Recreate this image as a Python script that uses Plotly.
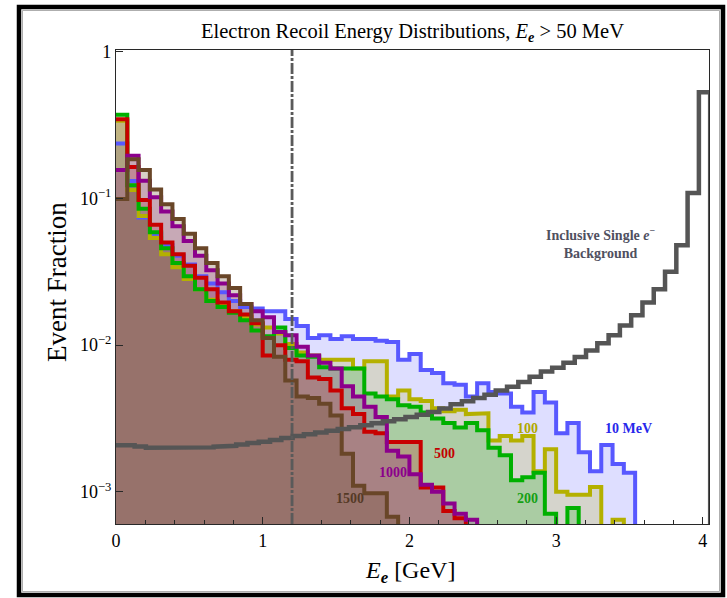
import plotly.graph_objects as go

# ---------------------------------------------------------------- data
BIN_W = 4.0 / 52.0          # GeV, common bin width
BKG_START = 0.05            # background binning starts at the 50 MeV cut

# event fraction per bin (signal bins start at 0 GeV); 0 = empty bin
ma_10 = [0.237, 0.1315, 0.0741, 0.0575, 0.0479, 0.0407, 0.0355, 0.0295, 0.0263, 0.0229,
         0.0200, 0.0182, 0.0178, 0.0170, 0.0170, 0.0151, 0.0135, 0.0112, 0.0117, 0.0110,
         0.0115, 0.0110, 0.0110, 0.0107, 0.0105, 0.00794, 0.00871, 0.00676, 0.00646, 0.00550,
         0.00537, 0.00447, 0.00550, 0.00479, 0.00468, 0.00380, 0.00347, 0.00479, 0.00407, 0.00251,
         0.00295, 0.00186, 0.00138, 0.00209, 0.00155, 0.00135]
ma_100 = [0.339, 0.114, 0.0759, 0.0537, 0.0417, 0.0339, 0.0282, 0.0240, 0.0204, 0.0191,
          0.0170, 0.0155, 0.0138, 0.0132, 0.0120, 0.0102, 0.00891, 0.00851, 0.00794, 0.00794,
          0.00794, 0.00692, 0.00776, 0.00776, 0.00447, 0.00490, 0.00427, 0.00417, 0.00372, 0.00355,
          0.00363, 0.00339, 0.00343, 0.00224, 0.00240, 0.00224, 0.00240, 0.00138, 0.00195, 0.00100,
          0.000955, 0.000955, 0.00108, 0, 0.000646]
ma_200 = [0.372, 0.123, 0.0851, 0.0589, 0.0457, 0.0363, 0.0295, 0.0240, 0.0200, 0.0182,
          0.0166, 0.0148, 0.0126, 0.0115, 0.0132, 0.00955, 0.00851, 0.00832, 0.00708, 0.00692,
          0.00692, 0.00692, 0.00468, 0.00447, 0.00427, 0.00389, 0.00380, 0.00347, 0.00316, 0.00295,
          0.00275, 0.00295, 0.00263, 0.00200, 0.00178, 0.00120, 0.00126, 0.00135, 0.000708, 0,
          0.000776]
ma_500 = [0.347, 0.164, 0.0977, 0.0661, 0.0501, 0.0417, 0.0347, 0.0288, 0.0240, 0.0195,
          0.0170, 0.0162, 0.0141, 0.00851, 0.0100, 0.00794, 0.00776, 0.00603, 0.00589, 0.00490,
          0.00372, 0.00339, 0.00257, 0.00251, 0.00219, 0.00219, 0.00219, 0.00107, 0.00107, 0.000741,
          0.000661]
ma_1000 = [0.156, 0.195, 0.132, 0.102, 0.0813, 0.0646, 0.0513, 0.0407, 0.0324, 0.0263,
           0.0219, 0.0191, 0.0170, 0.0155, 0.0123, 0.0117, 0.00977, 0.00851, 0.00759, 0.00692,
           0.00525, 0.00447, 0.00380, 0.00324, 0.00191, 0.00174, 0.00132, 0.00112, 0.00100, 0.000832,
           0.000708, 0.000646]
ma_1500 = [0.0991, 0.185, 0.156, 0.115, 0.0912, 0.0724, 0.0575, 0.0457, 0.0363, 0.0295,
           0.0245, 0.0191, 0.0148, 0.0112, 0.00832, 0.00575, 0.00447, 0.00437, 0.00398, 0.00331,
           0.00182, 0.00110, 0.000977, 0.000977, 0.000676]

# inclusive single-electron background (bins start at 50 MeV)
background = [0.00208, 0.00204, 0.00200, 0.00199, 0.00198, 0.00198, 0.00199, 0.00201, 0.00203, 0.00206,
              0.00210, 0.00215, 0.00220, 0.00226, 0.00233, 0.00240, 0.00247, 0.00254, 0.00261, 0.00268,
              0.00276, 0.00285, 0.00294, 0.00303, 0.00313, 0.00324, 0.00336, 0.00350, 0.00370, 0.00395,
              0.00415, 0.00437, 0.00460, 0.00490, 0.0052, 0.0056, 0.0061, 0.0066, 0.0070, 0.0076,
              0.0083, 0.0092, 0.0103, 0.0117, 0.0136, 0.0160, 0.0195, 0.0240, 0.0317, 0.048,
              0.109, 0.53]

series = [
    ("10 MeV", ma_10, "rgb(88,88,255)", 0.20),
    ("100", ma_100, "rgb(180,176,0)", 0.20),
    ("200", ma_200, "rgb(0,176,0)", 0.20),
    ("500", ma_500, "rgb(200,0,0)", 0.20),
    ("1000", ma_1000, "rgb(140,0,140)", 0.20),
    ("1500", ma_1500, "rgb(105,70,40)", 0.26),
]

E_CUT = 1.2
x_ticks = [0, 1, 2, 3, 4]
y_ticks = [1, 0.1, 0.01, 0.001]
y_tick_text = ["1", "10<sup>\u22121</sup>", "10<sup>\u22122</sup>", "10<sup>\u22123</sup>"]

# ---------------------------------------------------------------- layout constants
W, H = 727, 598
L, R, T, B = 116, 18, 50, 74
X_RANGE = [0, 4.042]
Y_RANGE = [-3.219, 0.0116]
FLOOR = 1e-6
SERIF = "Liberation Serif, Times New Roman, serif"


def px_x(px):
    return (px - L) / (W - L - R)


def px_y(py):
    return (H - B - py) / (H - T - B)


def step_path(edges, vals, closed):
    xs, ys = [], []
    if closed:
        xs.append(edges[0]); ys.append(FLOOR)
    for i, v in enumerate(vals):
        y = v if v > 0 else FLOOR
        xs += [edges[i], edges[i + 1]]
        ys += [y, y]
    xs.append(edges[len(vals)]); ys.append(FLOOR)
    return xs, ys


def rgba(rgb, a):
    return rgb.replace("rgb", "rgba").replace(")", f",{a})")


fig = go.Figure()

# filled areas first
for name, vals, col, alpha in series:
    edges = [i * BIN_W for i in range(len(vals) + 1)]
    xs, ys = step_path(edges, vals, True)
    fig.add_trace(go.Scatter(x=xs, y=ys, mode="lines", fill="toself",
                             fillcolor=rgba(col, alpha), line=dict(width=0),
                             hoverinfo="skip", showlegend=False))

# outlines
for name, vals, col, alpha in series:
    edges = [i * BIN_W for i in range(len(vals) + 1)]
    xs, ys = step_path(edges, vals, False)
    fig.add_trace(go.Scatter(x=xs, y=ys, mode="lines", name=name,
                             line=dict(color=col, width=4),
                             hoverinfo="skip", showlegend=False))

# background histogram
bkg_edges = [0.0] + [BKG_START + k * BIN_W for k in range(1, len(background) + 1)]
bx, by = step_path(bkg_edges, background, False)
fig.add_trace(go.Scatter(x=bx, y=by, mode="lines", name="Background",
                         line=dict(color="rgb(85,85,85)", width=4.5),
                         hoverinfo="skip", showlegend=False))

# energy cut marker
fig.add_shape(type="line", x0=E_CUT, x1=E_CUT, xref="x", yref="paper", y0=0, y1=1,
              line=dict(color="rgb(90,90,90)", width=2.8, dash="11px,2px,3px,2px"))

# outer frame
fig.add_shape(type="rect", xref="paper", yref="paper",
              x0=px_x(19), x1=px_x(723), y0=px_y(595), y1=px_y(7),
              line=dict(color="black", width=4.5))
fig.add_shape(type="rect", xref="paper", yref="paper",
              x0=px_x(22.5), x1=px_x(719.5), y0=px_y(591.5), y1=px_y(10.5),
              line=dict(color="rgba(120,120,120,0.6)", width=1))

# texts
def label(text, px, py, color, size=14, bold=True):
    fig.add_annotation(x=px_x(px), y=px_y(py), xref="paper", yref="paper",
                       text=f"<b>{text}</b>" if bold else text, showarrow=False,
                       font=dict(family=SERIF, size=size, color=color),
                       xanchor="center", yanchor="middle")

label("10 MeV", 628, 428, "rgb(40,40,235)")
label("100", 527, 428, "rgb(176,168,0)")
label("200", 527, 498, "rgb(20,160,20)")
label("500", 444, 453, "rgb(195,0,0)")
label("1000", 393, 472, "rgb(140,0,140)")
label("1500", 350, 498, "rgb(85,58,38)")
label("Inclusive Single <i>e</i><sup>\u2212</sup><br>Background", 600, 243,
      "rgb(80,80,95)", size=14)

label("Electron Recoil Energy Distributions, <i>E<sub><b>e</b></sub></i> &gt; 50 MeV",
      412, 32, "black", size=20.5, bold=False)
label("<i>E<sub><b>e</b></sub></i> [GeV]", 410, 572, "black", size=24, bold=False)
fig.add_annotation(x=px_x(57), y=px_y(282), xref="paper", yref="paper",
                   text="Event Fraction", showarrow=False, textangle=-90,
                   font=dict(family=SERIF, size=27, color="black"),
                   xanchor="center", yanchor="middle")

axis_common = dict(showline=True, mirror=True, linecolor="rgb(40,40,40)", linewidth=1.2,
                   ticks="inside", tickcolor="rgb(40,40,40)", tickwidth=1.2,
                   showgrid=False, zeroline=False,
                   tickfont=dict(family=SERIF, size=18, color="black"))

fig.update_layout(
    width=W, height=H,
    margin=dict(l=L, r=R, t=T, b=B),
    paper_bgcolor="white", plot_bgcolor="white",
    xaxis=dict(range=X_RANGE, tickvals=x_ticks, ticktext=[str(v) for v in x_ticks],
               ticklen=7, minor=dict(dtick=0.2, tick0=0, ticks="inside", ticklen=4,
                                     tickcolor="rgb(40,40,40)"),
               **axis_common),
    yaxis=dict(type="log", range=Y_RANGE, tickvals=y_ticks, ticktext=y_tick_text,
               ticklen=7, **axis_common),
)

fig.write_html("out.html")
